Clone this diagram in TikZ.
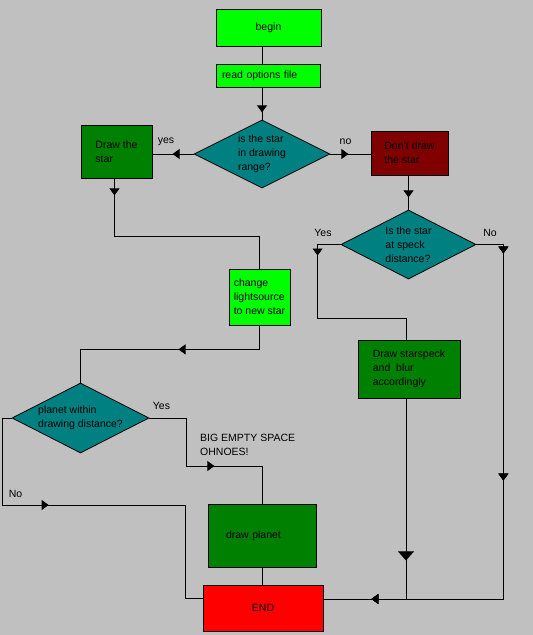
\documentclass[tikz,border=0pt]{standalone}
\usepackage{fontspec}
\setmainfont{Liberation Sans}
\usetikzlibrary{arrows.meta, positioning, shapes.geometric, decorations.markings, calc}
\definecolor{winGray}{HTML}{C0C0C0}
\definecolor{limeGreen}{HTML}{00FF00}
\definecolor{darkGreen}{HTML}{008000}
\definecolor{darkRed}{HTML}{800000}
\definecolor{tealBlue}{HTML}{008080}
\definecolor{brightRed}{HTML}{FF0000}

\begin{document}
\begin{tikzpicture}[x=1pt, y=-1pt, line width=0.8pt,
    font=\fontsize{10.5}{14}\selectfont,
    process/.style={draw, rectangle, inner sep=0pt, align=left},
    decision/.style={draw, diamond, aspect=2, inner sep=0pt, fill=tealBlue, align=left},
    tipat/.style={postaction={decorate}, decoration={markings,
        mark=at position #1 with {\arrow{Triangle[width=10pt, length=7pt]}}}},
    bigtipat/.style={postaction={decorate}, decoration={markings,
        mark=at position #1 with {\arrow{Triangle[width=16pt, length=9pt]}}}}]

  % Background (fixes the page size)
  \fill[winGray] (0,0) rectangle (533,635);

  % Boxes and decisions
  \node[process, fill=limeGreen, minimum width=105pt, minimum height=37pt] (begin) at (268.5,27.5) {begin};
  \node[process, fill=limeGreen, minimum height=23pt, text width=92pt, inner xsep=6pt] (readopt) at (268,75.5) {read options file};
  \node[decision, minimum width=136pt, minimum height=68pt] (range) at (262,154) {is the star\\in drawing\\range?};
  \node[process, fill=darkGreen, minimum width=71pt, minimum height=53pt] (drawstar) at (116.5,151.5) {Draw the\\star};
  \node[process, fill=darkRed, minimum width=77pt, minimum height=44pt] (nodraw) at (409.5,153) {Don't draw\\the star};
  \node[decision, minimum width=135pt, minimum height=69pt] (speckq) at (408.5,244.5) {Is the star\\at speck\\distance?};
  \node[process, fill=limeGreen, minimum width=61pt, minimum height=56pt] (light) at (259.5,297) {change\\lightsource\\to new star};
  \node[process, fill=darkGreen, minimum width=102pt, minimum height=58pt] (speck) at (409,369) {Draw starspeck\\and\ \ blur\\accordingly};
  \node[decision, minimum width=137pt, minimum height=70pt] (planetq) at (80.5,418) {planet within\\drawing distance?};
  \node[process, fill=darkGreen, minimum height=63pt, text width=72pt, inner xsep=18pt] (planet) at (262,535.5) {draw planet};
  \node[process, fill=brightRed, minimum width=120pt, minimum height=46pt] (endnode) at (263,608) {END};
  \node[align=left, anchor=west] (note) at (196.5,444.5) {BIG EMPTY SPACE\\OHNOES!};

  % Branch labels
  \node (yesrange) at (166,142) {yes};
  \node (norange) at (345.5,142) {no};
  \node (yesspeck) at (323,233) {Yes};
  \node (nospeck) at (490,233) {No};
  \node (yesplanet) at (161.5,406) {Yes};
  \node (noplanet) at (15.5,494) {No};

  % Joints on the END box
  \coordinate (endleft) at ($(endnode.west)+(0,-10)$);
  \coordinate (endright) at ($(endnode.east)+(0,-9)$);

  % Connectors
  \draw (begin.south -| range.north) -- (readopt.north -| range.north);
  \draw[tipat=25pt] (readopt.south -| range.north) -- (range.north);
  \draw[tipat=21pt] (range.west) -- (range.west -| drawstar.east);
  \draw[tipat=18pt] (range.east) -- (range.east -| nodraw.west);
  \draw[tipat=17pt] ($(drawstar.south)+(-2,0)$) -- ++(0,58) -| (light.north);
  \draw[tipat=22pt] (nodraw.south -| speckq.north) -- (speckq.north);
  \draw[tipat=34pt] (speckq.west) -| ++(-23,74) -| ($(speck.north)+(-3,0)$);
  \draw[tipat=36pt, tipat=263pt, tipat=-48pt] (speckq.east) -- ++(27,0) |- (endright);
  \draw[bigtipat=162pt] ($(speck.south)+(-3,0)$) -- ($(speck.south |- endright)+(-3,0)$);
  \draw[tipat=105pt] (light.south) -- ++(0,24) -| (planetq.north);
  \draw[tipat=113pt] (planetq.east) -- ++(37,0) -- ++(0,48) -| (planet.north);
  \draw[tipat=142pt] (planetq.west) -- ++(-9,0) -- ++(0,87) -- ++(183,0) |- (endleft);
  \draw (planet.south) -- (planet.south |- endnode.north);
\end{tikzpicture}
\end{document}
